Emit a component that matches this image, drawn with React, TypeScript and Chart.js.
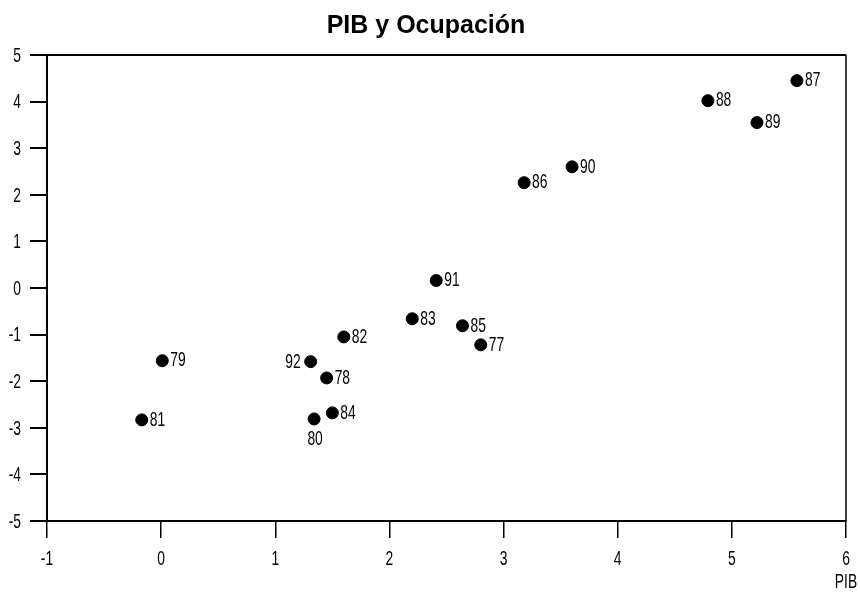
import React, { useEffect, useRef } from "react";
import { Chart, registerables } from "chart.js";

Chart.register(...registerables);

const years = ["87", "88", "89", "90", "86", "91", "83", "85", "77", "82", "92", "78", "84", "80", "79", "81"];
const pib = [5.57, 4.79, 5.22, 3.6, 3.18, 2.41, 2.2, 2.64, 2.8, 1.6, 1.31, 1.45, 1.5, 1.34, 0.01, -0.17];
const ocupacion = [4.45, 4.02, 3.55, 2.6, 2.26, 0.16, -0.66, -0.81, -1.22, -1.05, -1.58, -1.93, -2.68, -2.81, -1.56, -2.83];
const xTicks = [-1, 0, 1, 2, 3, 4, 5, 6];
const yTicks = [-5, -4, -3, -2, -1, 0, 1, 2, 3, 4, 5];
const titleText = "PIB y Ocupación";
const xAxisTitle = "PIB";

const labelSide: Record<string, string> = { "92": "left", "80": "below" };
const FONT = "'Liberation Sans', Arial, sans-serif";
const NARROW = 0.66;

function narrowText(ctx: CanvasRenderingContext2D, text: string, x: number, y: number, align: CanvasTextAlign, baseline: CanvasTextBaseline) {
  ctx.save();
  ctx.translate(x, y);
  ctx.scale(NARROW, 1);
  ctx.textAlign = align;
  ctx.textBaseline = baseline;
  ctx.fillText(text, 0, 0);
  ctx.restore();
}

export default function App() {
  const ref = useRef<HTMLCanvasElement>(null);
  useEffect(() => {
    document.body.style.margin = "0";
    const overlay = {
      id: "overlay",
      afterDraw(chart: any) {
        const { ctx, chartArea } = chart;
        const xs = chart.scales.x;
        const ys = chart.scales.y;
        ctx.save();
        // frame top and right
        ctx.strokeStyle = "#000";
        ctx.lineWidth = 2;
        ctx.beginPath();
        ctx.moveTo(chartArea.left - 17, chartArea.top);
        ctx.lineTo(chartArea.right, chartArea.top);
        ctx.stroke();
        ctx.lineWidth = 1.5;
        ctx.beginPath();
        ctx.moveTo(chartArea.right, chartArea.top);
        ctx.lineTo(chartArea.right, chartArea.bottom);
        ctx.stroke();
        ctx.fillStyle = "#000";
        ctx.font = `21px ${FONT}`;
        // y tick labels
        yTicks.forEach((v) => {
          narrowText(ctx, String(v), chartArea.left - 26, ys.getPixelForValue(v) + 1, "right", "middle");
        });
        // x tick labels
        xTicks.forEach((v) => {
          narrowText(ctx, String(v), xs.getPixelForValue(v), xs.top + 28, "center", "top");
        });
        // point labels
        const meta = chart.getDatasetMeta(0);
        meta.data.forEach((el: any, i: number) => {
          const lab = years[i];
          const side = labelSide[lab] || "right";
          if (side === "left") {
            narrowText(ctx, lab, el.x - 10, el.y + 1, "right", "middle");
          } else if (side === "below") {
            narrowText(ctx, lab, el.x + 1, el.y + 10, "center", "top");
          } else {
            narrowText(ctx, lab, el.x + 8, el.y, "left", "middle");
          }
        });
        // x axis title
        narrowText(ctx, xAxisTitle, chartArea.right, 582, "center", "middle");
        // title
        ctx.font = `bold 25px ${FONT}`;
        ctx.textAlign = "center";
        ctx.textBaseline = "alphabetic";
        ctx.fillText(titleText, 426, 33);
        ctx.restore();
      },
    };
    const chart = new Chart(ref.current!, {
      type: "scatter",
      data: {
        datasets: [
          {
            data: pib.map((x, i) => ({ x, y: ocupacion[i] })),
            backgroundColor: "#000",
            borderColor: "#000",
            pointRadius: 6,
            pointHoverRadius: 6,
          },
        ],
      },
      options: {
        animation: false,
        responsive: false,
        layout: { padding: { top: 55, right: 14, left: 0, bottom: 0 } },
        plugins: { legend: { display: false }, tooltip: { enabled: false }, title: { display: false } },
        scales: {
          x: {
            type: "linear",
            min: -1,
            max: 6,
            afterFit: (s: any) => { s.height = 73; },
            afterBuildTicks: (s: any) => { s.ticks = xTicks.map((v) => ({ value: v })); },
            ticks: { display: false },
            grid: { drawOnChartArea: false, drawTicks: true, tickLength: 17, color: "#000", lineWidth: 1.5 },
            border: { display: true, color: "#000", width: 2 },
          },
          y: {
            type: "linear",
            min: -5,
            max: 5,
            afterFit: (s: any) => { s.width = 47; },
            afterBuildTicks: (s: any) => { s.ticks = yTicks.map((v) => ({ value: v })); },
            ticks: { display: false },
            grid: { drawOnChartArea: false, drawTicks: true, tickLength: 17, color: "#000", lineWidth: 2 },
            border: { display: true, color: "#000", width: 2 },
          },
        },
      },
      plugins: [overlay],
    });
    return () => chart.destroy();
  }, []);
  return (
    <div style={{ position: "absolute", left: 0, top: 0, width: 860, height: 594, background: "#fff" }}>
      <canvas ref={ref} width={860} height={594} style={{ width: 860, height: 594 }} />
    </div>
  );
}
